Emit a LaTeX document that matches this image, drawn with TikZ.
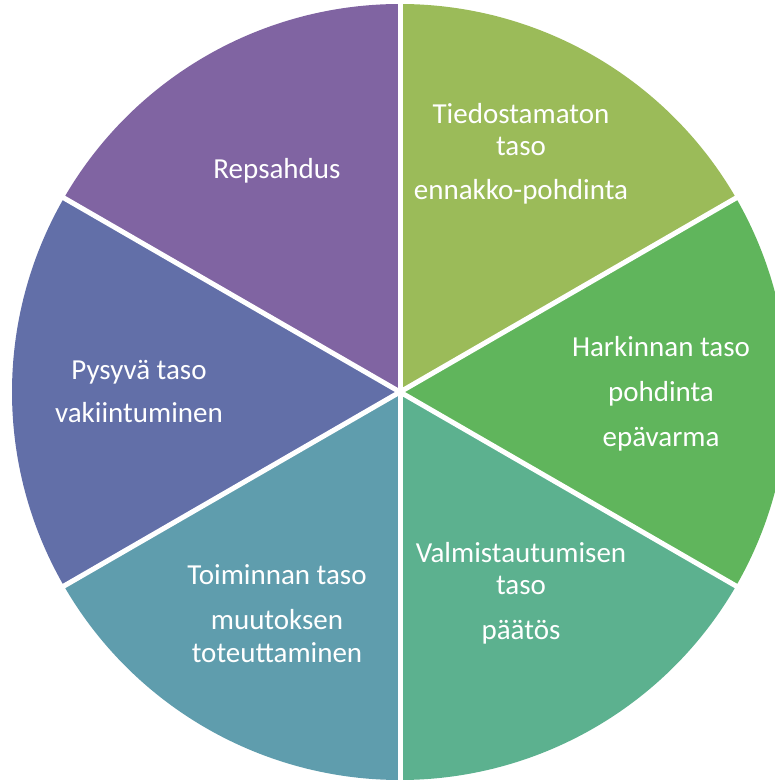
\documentclass[tikz,border=0pt]{standalone}
\usepackage{fontspec}
\setmainfont{Carlito}
\usetikzlibrary{calc}
\definecolor{cRep}{HTML}{8064A2}
\definecolor{cTie}{HTML}{9BBB59}
\definecolor{cHar}{HTML}{60B55C}
\definecolor{cVal}{HTML}{5CB18F}
\definecolor{cToi}{HTML}{5F9DAD}
\definecolor{cPys}{HTML}{626FA8}
\begin{document}
\begin{tikzpicture}[x=1pt,y=1pt,
  lbl/.style={anchor=base,text=white,inner sep=0pt,font=\fontsize{29}{33}\selectfont},
  sep/.style={draw=white,line width=5pt}]
\useasboundingbox (0,0) rectangle (775,780);
\clip (0,0) rectangle (775,780);
\coordinate (c) at (400,388);
\def\R{388}
\fill[cTie] (c) -- ++(30:\R) arc[start angle=30,end angle=90,radius=\R] -- cycle;
\fill[cHar] (c) -- ++(-30:\R) arc[start angle=-30,end angle=30,radius=\R] -- cycle;
\fill[cVal] (c) -- ++(-90:\R) arc[start angle=-90,end angle=-30,radius=\R] -- cycle;
\fill[cToi] (c) -- ++(210:\R) arc[start angle=210,end angle=270,radius=\R] -- cycle;
\fill[cPys] (c) -- ++(150:\R) arc[start angle=150,end angle=210,radius=\R] -- cycle;
\fill[cRep] (c) -- ++(90:\R) arc[start angle=90,end angle=150,radius=\R] -- cycle;
\foreach \a/\n in {90/p1,30/p2,-30/p3,-90/p4,210/p5,150/p6}{
  \coordinate (\n) at ($(c)+(\a:\R+5)$);
}
\draw[sep] (c) -- (p1);
\draw[sep] (c) -- (p2);
\draw[sep] (c) -- (p3);
\draw[sep] (c) -- (p4);
\draw[sep] (c) -- (p5);
\draw[sep] (c) -- (p6);
\node[lbl] (t1) at (521,656) {Tiedostamaton};
\node[lbl] (t2) at (521,624) {taso};
\node[lbl] (t3) at (521,580) {ennakko-pohdinta};
\node[lbl] (h1) at (661,423) {Harkinnan taso};
\node[lbl] (h2) at (661,378) {pohdinta};
\node[lbl] (h3) at (661,333) {epävarma};
\node[lbl] (v1) at (521,217) {Valmistautumisen};
\node[lbl] (v2) at (521,185) {taso};
\node[lbl] (v3) at (521,140) {päätös};
\node[lbl] (o1) at (277,195) {Toiminnan taso};
\node[lbl] (o2) at (277,150) {muutoksen};
\node[lbl] (o3) at (277,117) {toteuttaminen};
\node[lbl] (y1) at (139,400) {Pysyvä taso};
\node[lbl] (y2) at (139,357) {vakiintuminen};
\node[lbl] (r1) at (277,601) {Repsahdus};
\end{tikzpicture}
\end{document}
